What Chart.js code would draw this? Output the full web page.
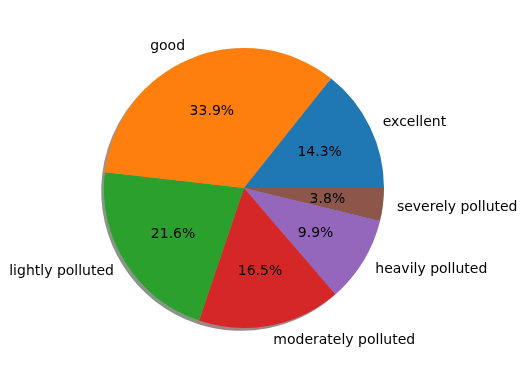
<!DOCTYPE html>
<html>
<head>
<meta charset="utf-8">
<script src="https://cdn.jsdelivr.net/npm/chart.js@4"></script>
<style>
  html, body { margin: 0; padding: 0; background: #fff; }
  #wrap { width: 528px; height: 377px; }
</style>
</head>
<body>
<div id="wrap"><canvas id="myChart" width="528" height="377"></canvas></div>
<script>
// air quality share, in matplotlib order (counter-clockwise from 3 o'clock)
var labels = ['excellent', 'good', 'lightly polluted', 'moderately polluted', 'heavily polluted', 'severely polluted'];
var shares = [14.3, 33.9, 21.6, 16.5, 9.9, 3.8];
var colors = ['#1f77b4', '#ff7f0e', '#2ca02c', '#d62728', '#9467bd', '#8c564b'];

// chart.js goes clockwise, so reverse and start at 3 o'clock
var revLabels = labels.slice().reverse();
var revShares = shares.slice().reverse();
var revColors = colors.slice().reverse();

function darker(hex) {
    var r = parseInt(hex.substr(1, 2), 16) * 0.3;
    var g = parseInt(hex.substr(3, 2), 16) * 0.3;
    var b = parseInt(hex.substr(5, 2), 16) * 0.3;
    return 'rgba(' + Math.round(r) + ',' + Math.round(g) + ',' + Math.round(b) + ',0.5)';
}

var pieExtras = {
    id: 'pieExtras',
    beforeDatasetsDraw: function(chart) {
        // shadow like matplotlib shadow=True
        var ctx = chart.ctx;
        var meta = chart.getDatasetMeta(0);
        var off = 0.02;
        meta.data.forEach(function(arc, i) {
            var r = arc.outerRadius;
            ctx.save();
            ctx.beginPath();
            ctx.moveTo(arc.x - off * r, arc.y + off * r);
            ctx.arc(arc.x - off * r, arc.y + off * r, r, arc.startAngle, arc.endAngle);
            ctx.closePath();
            ctx.fillStyle = darker(revColors[i]);
            ctx.fill();
            ctx.restore();
        });
    },
    afterDatasetsDraw: function(chart) {
        var ctx = chart.ctx;
        var meta = chart.getDatasetMeta(0);
        ctx.save();
        ctx.font = '14px "DejaVu Sans"';
        ctx.fillStyle = '#000';
        ctx.textBaseline = 'middle';
        meta.data.forEach(function(arc, i) {
            var mid = (arc.startAngle + arc.endAngle) / 2;
            var r = arc.outerRadius;
            var cx = Math.cos(mid), cy = Math.sin(mid);
            // percentage inside
            ctx.textAlign = 'center';
            ctx.fillText(revShares[i].toFixed(1) + '%', arc.x + 0.6 * r * cx, arc.y + 0.6 * r * cy + 1);
            // category outside
            ctx.textAlign = cx >= 0 ? 'left' : 'right';
            ctx.fillText(revLabels[i], arc.x + 1.1 * r * cx, arc.y + 1.1 * r * cy + 1);
        });
        ctx.restore();
    }
};

var myChart = document.getElementById('myChart').getContext('2d');
var pieChart = new Chart(myChart, {
    type: 'pie',
    data: {
        labels: revLabels,
        datasets: [{
            data: revShares,
            backgroundColor: revColors,
            borderWidth: 0,
            hoverOffset: 0
        }]
    },
    options: {
        responsive: false,
        animation: false,
        rotation: 90,
        layout: { padding: { top: 48, bottom: 49, left: 104, right: 144 } },
        plugins: {
            legend: { display: false },
            tooltip: { enabled: false }
        }
    },
    plugins: [pieExtras]
});
</script>
</body>
</html>
